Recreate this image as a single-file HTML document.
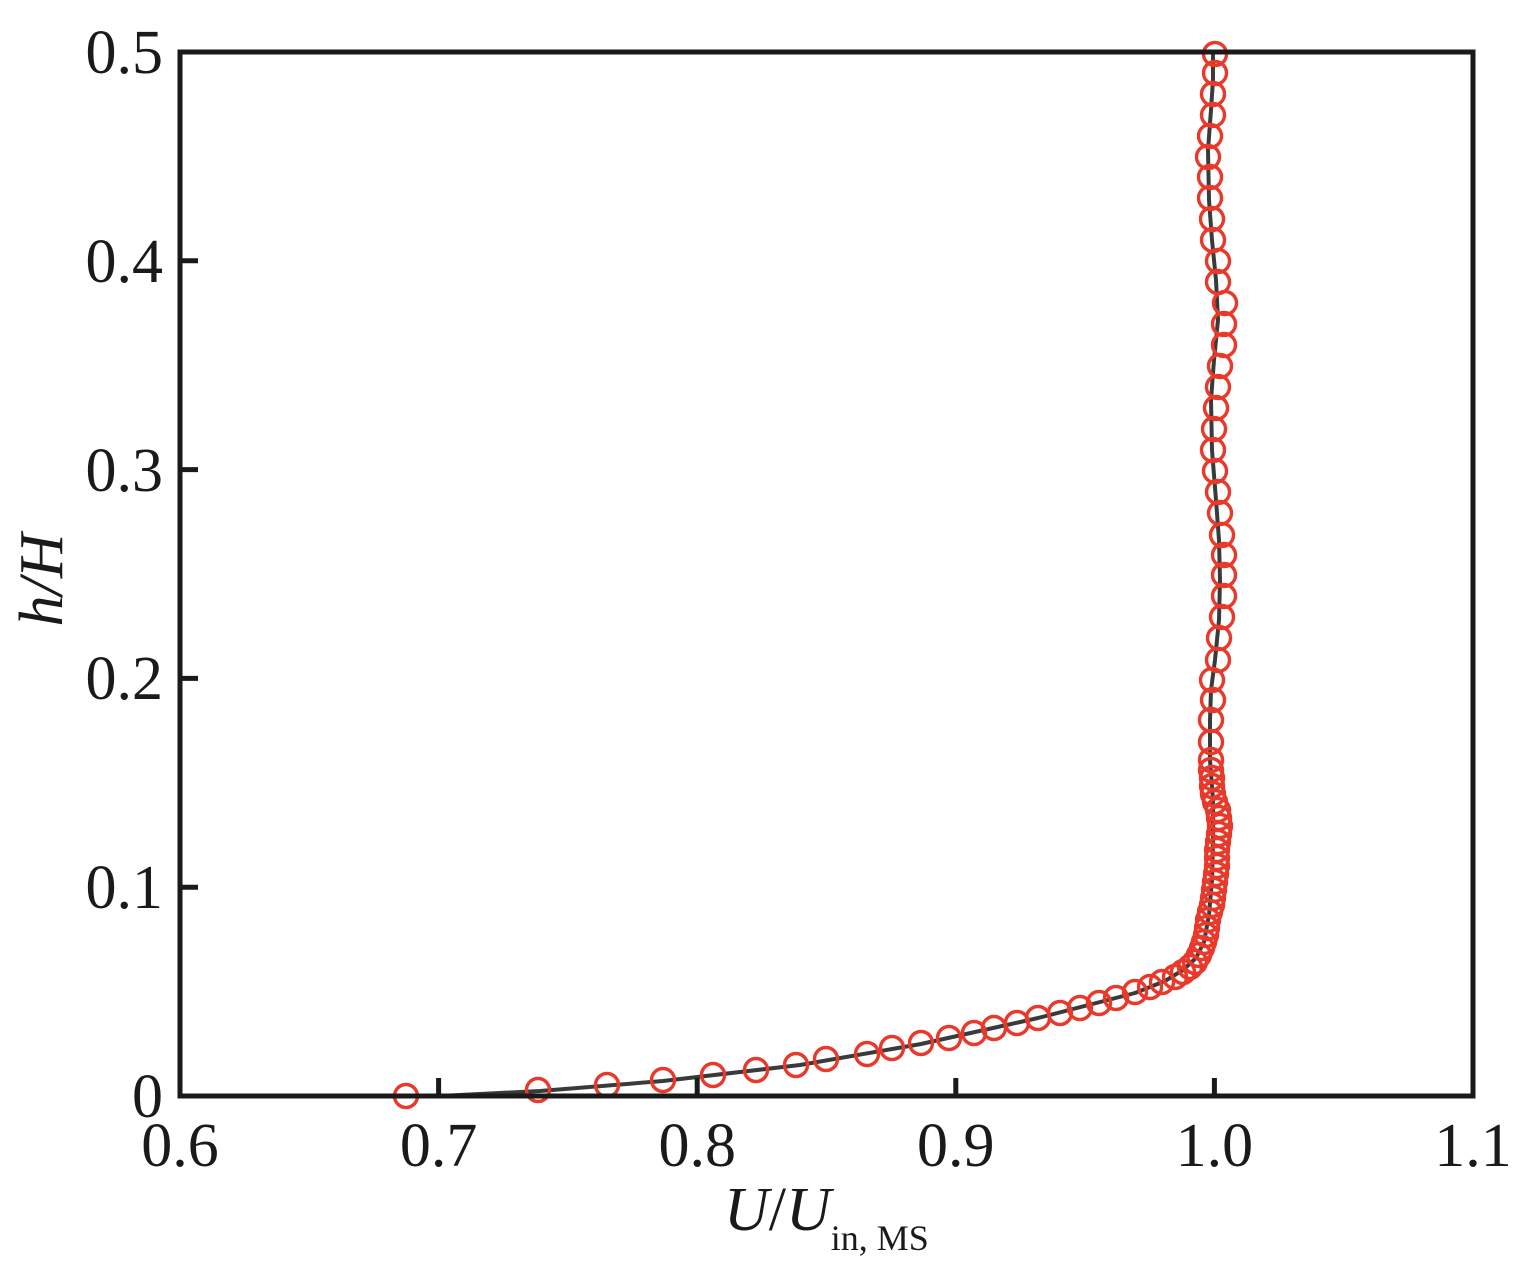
<!DOCTYPE html>
<html><head><style>body{margin:0;background:#fff}</style></head><body>
<svg width="1530" height="1278" xmlns="http://www.w3.org/2000/svg" font-family="Liberation Serif, serif">
<rect width="1530" height="1278" fill="#fff"/>
<polyline fill="none" stroke="#3a3a3a" stroke-width="4" stroke-linejoin="round" stroke-linecap="round" points="440,1096 540,1091 663,1081 800,1065 921,1044 1038,1018 1135,993 1165,981 1183,970 1196,958 1204,942 1209,915 1212,880 1213,840 1213,800 1210,760 1210,720 1211,690 1215,660 1219,620 1220,580 1219,540 1216,500 1212,450 1211,400 1214,360 1218,320 1216,280 1212,240 1209,200 1208,150 1211,110 1213,80 1213,52"/>
<g fill="none" stroke="#e8392a" stroke-width="3.4">
<circle cx="406" cy="1096" r="11.5"/><circle cx="538" cy="1090" r="11.5"/><circle cx="607" cy="1085" r="11.5"/><circle cx="663" cy="1080" r="11.5"/><circle cx="713" cy="1075" r="11.5"/><circle cx="756" cy="1070" r="11.5"/><circle cx="796" cy="1065" r="11.5"/><circle cx="826" cy="1059" r="11.5"/><circle cx="867" cy="1054" r="11.5"/><circle cx="892" cy="1048" r="11.5"/><circle cx="921" cy="1043" r="11.5"/><circle cx="949" cy="1038" r="11.5"/><circle cx="974" cy="1033" r="11.5"/><circle cx="994" cy="1028" r="11.5"/><circle cx="1017" cy="1023" r="11.5"/><circle cx="1038" cy="1018" r="11.5"/><circle cx="1060" cy="1013" r="11.5"/><circle cx="1080" cy="1008" r="11.5"/><circle cx="1099" cy="1003" r="11.5"/><circle cx="1116" cy="998" r="11.5"/><circle cx="1135" cy="992" r="11.5"/><circle cx="1150" cy="987" r="11.5"/><circle cx="1162" cy="982" r="11.5"/><circle cx="1175" cy="977" r="11.5"/><circle cx="1183" cy="972" r="11.5"/><circle cx="1190" cy="967" r="11.5"/><circle cx="1195" cy="962" r="11.5"/><circle cx="1199" cy="955" r="11.5"/><circle cx="1202" cy="948" r="11.5"/><circle cx="1204" cy="942" r="11.5"/><circle cx="1206" cy="935" r="11.5"/><circle cx="1207" cy="928" r="11.5"/><circle cx="1208" cy="920" r="11.5"/><circle cx="1210" cy="912" r="11.5"/><circle cx="1212" cy="905" r="11.5"/><circle cx="1213" cy="898" r="11.5"/><circle cx="1214" cy="890" r="11.5"/><circle cx="1215" cy="882" r="11.5"/><circle cx="1216" cy="874" r="11.5"/><circle cx="1217" cy="866" r="11.5"/><circle cx="1217" cy="858" r="11.5"/><circle cx="1217" cy="850" r="11.5"/><circle cx="1218" cy="842" r="11.5"/><circle cx="1219" cy="834" r="11.5"/><circle cx="1220" cy="826" r="11.5"/><circle cx="1219" cy="818" r="11.5"/><circle cx="1218" cy="810" r="11.5"/><circle cx="1215" cy="802" r="11.5"/><circle cx="1213" cy="794" r="11.5"/><circle cx="1212" cy="786" r="11.5"/><circle cx="1212" cy="778" r="11.5"/><circle cx="1211" cy="770" r="11.5"/><circle cx="1211" cy="760" r="11.5"/><circle cx="1211" cy="742" r="11.5"/><circle cx="1211" cy="720" r="11.5"/><circle cx="1213" cy="700" r="11.5"/><circle cx="1212" cy="680" r="11.5"/><circle cx="1218" cy="660" r="11.5"/><circle cx="1219" cy="638" r="11.5"/><circle cx="1222" cy="617" r="11.5"/><circle cx="1224" cy="596" r="11.5"/><circle cx="1224" cy="575" r="11.5"/><circle cx="1224" cy="555" r="11.5"/><circle cx="1222" cy="535" r="11.5"/><circle cx="1220" cy="513" r="11.5"/><circle cx="1218" cy="492" r="11.5"/><circle cx="1215" cy="471" r="11.5"/><circle cx="1213" cy="450" r="11.5"/><circle cx="1214" cy="429" r="11.5"/><circle cx="1216" cy="408" r="11.5"/><circle cx="1218" cy="387" r="11.5"/><circle cx="1220" cy="366" r="11.5"/><circle cx="1224" cy="345" r="11.5"/><circle cx="1224" cy="324" r="11.5"/><circle cx="1225" cy="303" r="11.5"/><circle cx="1218" cy="282" r="11.5"/><circle cx="1218" cy="261" r="11.5"/><circle cx="1213" cy="240" r="11.5"/><circle cx="1212" cy="219" r="11.5"/><circle cx="1210" cy="198" r="11.5"/><circle cx="1210" cy="177" r="11.5"/><circle cx="1208" cy="157" r="11.5"/><circle cx="1210" cy="136" r="11.5"/><circle cx="1213" cy="115" r="11.5"/><circle cx="1213" cy="94" r="11.5"/><circle cx="1215" cy="73" r="11.5"/><circle cx="1215" cy="54" r="11.5"/>
</g>
<g stroke="#1a1a1a" stroke-width="5" fill="none">
<rect x="180" y="52" width="1293" height="1044"/>
<line x1="438.6" y1="1096" x2="438.6" y2="1078"/><line x1="697.2" y1="1096" x2="697.2" y2="1078"/><line x1="955.8" y1="1096" x2="955.8" y2="1078"/><line x1="1214.4" y1="1096" x2="1214.4" y2="1078"/>
<line x1="180" y1="887.2" x2="198" y2="887.2"/><line x1="180" y1="678.4" x2="198" y2="678.4"/><line x1="180" y1="469.6" x2="198" y2="469.6"/><line x1="180" y1="260.8" x2="198" y2="260.8"/>
</g>
<g font-size="62" fill="#1a1a1a" text-anchor="end">
<text x="163" y="1117">0</text><text x="163" y="908">0.1</text><text x="163" y="699">0.2</text><text x="163" y="491">0.3</text><text x="163" y="282">0.4</text><text x="163" y="73">0.5</text>
</g>
<g font-size="62" fill="#1a1a1a" text-anchor="middle">
<text x="180" y="1166">0.6</text><text x="438.6" y="1166">0.7</text><text x="697.2" y="1166">0.8</text><text x="955.8" y="1166">0.9</text><text x="1214.4" y="1166">1.0</text><text x="1473" y="1166">1.1</text>
</g>
<text transform="translate(62,580) rotate(-90)" font-size="62" font-style="italic" text-anchor="middle" fill="#1a1a1a">h/H</text>
<text x="724" y="1230" font-size="62" fill="#1a1a1a"><tspan font-style="italic">U</tspan>/<tspan font-style="italic">U</tspan><tspan font-size="36" dy="20">in, MS</tspan></text>
</svg>
</body></html>
